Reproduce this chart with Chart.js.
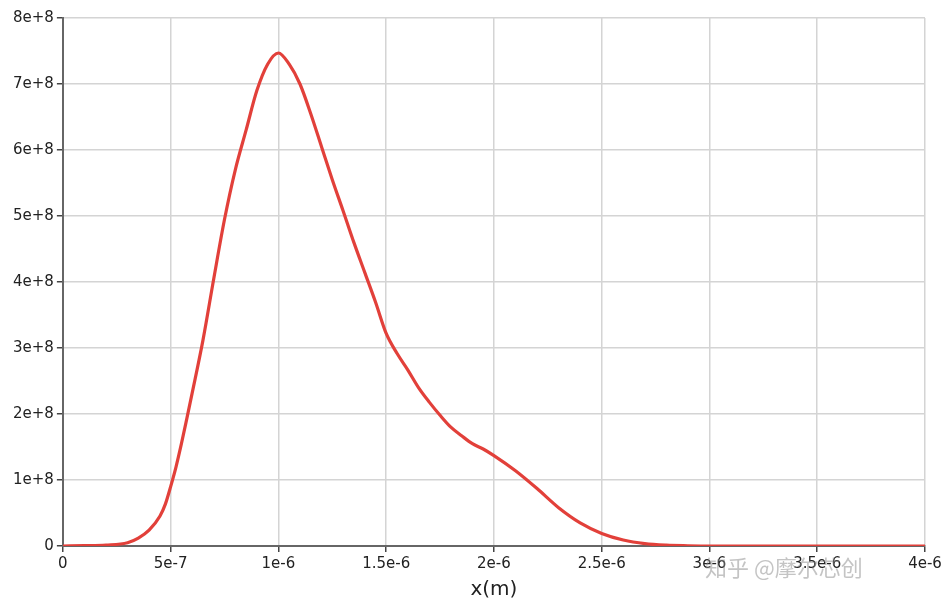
<!DOCTYPE html>
<html><head><meta charset="utf-8">
<script src="https://cdn.jsdelivr.net/npm/chart.js@4/dist/chart.umd.min.js"></script>
<style>html,body{margin:0;padding:0;background:#fff}#wrap{width:949px;height:606px;position:relative}</style>
</head><body><div id="wrap"><canvas id="c"></canvas></div>
<script>
// x positions (metres) and values
const xValues = [0,1e-7,2e-7,3e-7,3.5e-7,4e-7,4.5e-7,4.75e-7,5e-7,5.25e-7,5.5e-7,5.75e-7,6e-7,6.5e-7,7e-7,7.5e-7,8e-7,8.5e-7,9e-7,9.5e-7,1e-6,1.05e-6,1.1e-6,1.15e-6,1.2e-6,1.25e-6,1.3e-6,1.35e-6,1.4e-6,1.45e-6,1.5e-6,1.55e-6,1.6e-6,1.65e-6,1.7e-6,1.75e-6,1.8e-6,1.85e-6,1.9e-6,1.95e-6,2e-6,2.1e-6,2.2e-6,2.3e-6,2.4e-6,2.5e-6,2.6e-6,2.7e-6,2.8e-6,2.9e-6,3e-6,3.5e-6,4e-6];
const yValues = [0,0.005e8,0.015e8,0.05e8,0.12e8,0.24e8,0.45e8,0.63e8,0.9e8,1.2e8,1.55e8,1.93e8,2.32e8,3.12e8,4.05e8,4.95e8,5.7e8,6.3e8,6.9e8,7.3e8,7.47e8,7.3e8,7.0e8,6.55e8,6.05e8,5.55e8,5.08e8,4.6e8,4.15e8,3.7e8,3.22e8,2.92e8,2.67e8,2.4e8,2.18e8,1.98e8,1.8e8,1.67e8,1.55e8,1.47e8,1.37e8,1.14e8,0.87e8,0.58e8,0.35e8,0.19e8,0.09e8,0.035e8,0.012e8,0.004e8,0,0,0];
const xTickValues = [0,5e-7,1e-6,1.5e-6,2e-6,2.5e-6,3e-6,3.5e-6,4e-6];
const xTickLabels = ["0","5e-7","1e-6","1.5e-6","2e-6","2.5e-6","3e-6","3.5e-6","4e-6"];
const yTickValues = [0,1e8,2e8,3e8,4e8,5e8,6e8,7e8,8e8];
const yTickLabels = ["0","1e+8","2e+8","3e+8","4e+8","5e+8","6e+8","7e+8","8e+8"];
const xTitle = "x(m)";
const watermark = "知乎 @摩尔芯创";

const points = xValues.map((x,i)=>({x:x,y:yValues[i]}));
const tickFont = {family:"'DejaVu Sans',sans-serif", size:15};

const wmPlugin = {
  id:'wm',
  afterDraw(chart){
    const ctx = chart.ctx;
    ctx.save();
    ctx.globalAlpha = 0.5;
    ctx.fillStyle = '#8a8a8a';
    ctx.font = "22px 'Noto Sans CJK SC'";
    ctx.textBaseline = 'middle';
    ctx.fillText(watermark, 705, 568);
    ctx.restore();
  }
};

new Chart(document.getElementById('c'), {
  type:'scatter',
  data:{datasets:[{data:points, showLine:true, borderColor:'#e2403a', backgroundColor:'#e2403a', borderWidth:3.2, pointRadius:0, cubicInterpolationMode:'monotone'}]},
  options:{
    responsive:true, maintainAspectRatio:false, animation:false,
    layout:{padding:{left:10,right:24,top:18,bottom:4}},
    plugins:{legend:{display:false}, tooltip:{enabled:false}},
    scales:{
      x:{type:'linear', min:0, max:4e-6,
        afterBuildTicks(s){ s.ticks = xTickValues.map(v=>({value:v})); },
        ticks:{callback:(v,i)=>xTickLabels[i], color:'#222', font:tickFont, maxRotation:0, autoSkip:false, padding:3},
        grid:{color:'#d4d4d4', lineWidth:1.5, tickColor:'#444', tickLength:6},
        border:{color:'#666', width:2},
        title:{display:true, text:xTitle, color:'#222', font:{family:"'DejaVu Sans',sans-serif", size:20}, padding:{top:2,bottom:0}}
      },
      y:{type:'linear', min:0, max:8e8,
        afterBuildTicks(s){ s.ticks = yTickValues.map(v=>({value:v})); },
        ticks:{callback:(v,i)=>yTickLabels[i], color:'#222', font:tickFont, autoSkip:false, padding:3},
        grid:{color:'#d4d4d4', lineWidth:1.5, tickColor:'#444', tickLength:6},
        border:{color:'#666', width:2}
      }
    }
  },
  plugins:[wmPlugin]
});
</script></body></html>
